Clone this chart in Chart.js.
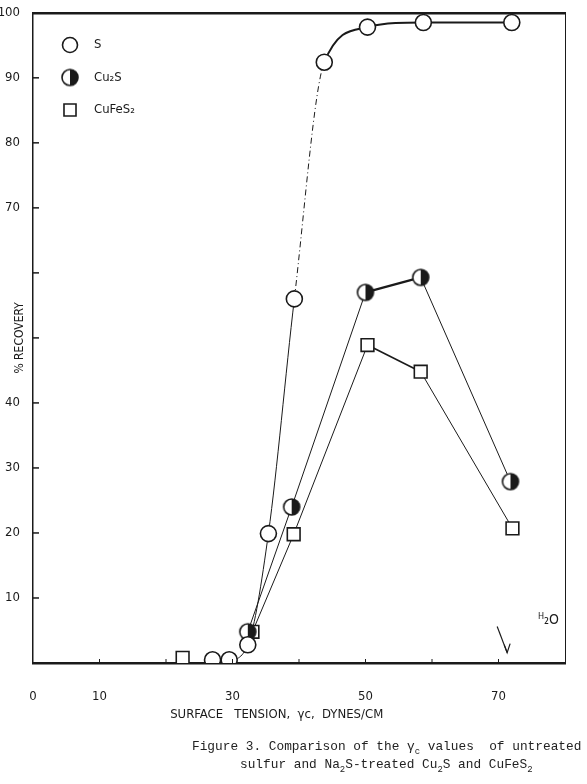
<!DOCTYPE html>
<html>
<head>
<meta charset="utf-8">
<script src="https://cdn.jsdelivr.net/npm/chart.js@4.4.1/dist/chart.umd.min.js"></script>
<style>
html, body { margin: 0; padding: 0; background: #fff; }
#wrap { position: relative; width: 587px; height: 784px; }
#wrap canvas { position: absolute; left: 0; top: 0; }
.cap { position: absolute; font-family: 'Liberation Mono', 'DejaVu Sans Mono', monospace; font-size: 12.8px; color: #222; white-space: pre; line-height: 16px; }
.cap sub { font-size: 70%; vertical-align: -4px; line-height: 0; }
</style>
</head>
<body>
<div id="wrap">
  <canvas id="recoveryChart" width="587" height="784"></canvas>
  <div class="cap" style="left:192px; top:739px">Figure 3. Comparison of the γ<sub>c</sub> values  of untreated</div>
  <div class="cap" style="left:240px; top:757px">sulfur and Na<sub>2</sub>S-treated Cu<sub>2</sub>S and CuFeS<sub>2</sub></div>
</div>
<script>
// Data (surface tension in dynes/cm, % recovery)
const sulfurX = [27, 29.5, 32.3, 35.4, 39.3, 43.8, 50.3, 58.7, 72];
const sulfurY = [0.5, 0.5, 2.8, 19.9, 56, 92.4, 97.8, 98.5, 98.5];
const cu2sX = [32.3, 38.9, 50.0, 58.3, 71.8];
const cu2sY = [4.8, 24.0, 57.0, 59.3, 27.9];
const cufes2X = [22.5, 33.0, 39.2, 50.3, 58.3, 72.1];
const cufes2Y = [0.8, 4.8, 19.8, 48.9, 44.8, 20.7];

const seriesNames = ['S', 'Cu₂S', 'CuFeS₂'];
const xTickLabels = { 0: '0', 10: '10', 30: '30', 50: '50', 70: '70' };
const yTickLabels = { 10: '10', 20: '20', 30: '30', 40: '40', 70: '70', 80: '80', 90: '90', 100: '100' };

const INK = '#1a1a1a';
const tickFont = { family: "'Liberation Sans Narrow', 'DejaVu Sans Condensed', sans-serif", size: 13 };

function toPoints(xs, ys) {
    return xs.map((x, i) => ({ x: x, y: ys[i] }));
}

// half filled circle marker for Cu2S
function halfMoon(r) {
    const c = document.createElement('canvas');
    const s = r * 2 + 4;
    c.width = s;
    c.height = s;
    const g = c.getContext('2d');
    const m = s / 2;
    g.beginPath(); g.arc(m, m, r, 0, Math.PI * 2); g.fillStyle = '#fff'; g.fill();
    g.beginPath(); g.arc(m, m, r, -Math.PI / 2, Math.PI / 2); g.closePath(); g.fillStyle = INK; g.fill();
    g.beginPath(); g.arc(m, m, r, 0, Math.PI * 2); g.lineWidth = 1.6; g.strokeStyle = INK; g.stroke();
    return c;
}
const moonMarker = halfMoon(8);

// small inward ticks, legend inside plot and the H2O arrow
const extras = {
    id: 'extras',
    afterDatasetsDraw(chart) {
        const ctx = chart.ctx;
        const xs = chart.scales.x, ys = chart.scales.y;
        const area = chart.chartArea;
        ctx.save();
        ctx.strokeStyle = INK;
        ctx.lineWidth = 1.5;
        for (let v = 10; v < 100; v += 10) {
            const py = ys.getPixelForValue(v);
            ctx.beginPath(); ctx.moveTo(area.left, py); ctx.lineTo(area.left + 6, py); ctx.stroke();
        }
        ctx.lineWidth = 1;
        for (let v = 10; v <= 70; v += 10) {
            const px = xs.getPixelForValue(v);
            ctx.beginPath(); ctx.moveTo(px, area.bottom); ctx.lineTo(px, area.bottom - 4); ctx.stroke();
        }

        // legend
        const styles = [
            { pointStyle: 'circle', radius: 7.5 },
            { pointStyle: moonMarker, radius: 8 },
            { pointStyle: 'rect', radius: 8.5 }
        ];
        ctx.font = "13px 'DejaVu Sans Condensed', sans-serif";
        ctx.textBaseline = 'middle';
        ctx.textAlign = 'left';
        seriesNames.forEach((name, i) => {
            const ly = 45 + i * 32.5;
            ctx.fillStyle = '#fff';
            ctx.strokeStyle = INK;
            ctx.lineWidth = 1.6;
            Chart.helpers.drawPoint(ctx, { pointStyle: styles[i].pointStyle, radius: styles[i].radius, borderWidth: 1.6, rotation: 0 }, 70, ly);
            ctx.fillStyle = INK;
            ctx.fillText(name, 94, ly);
        });

        // H2O marker
        const ax0 = xs.getPixelForValue(69.8), ay0 = ys.getPixelForValue(5.6);
        const ax1 = xs.getPixelForValue(71.3), ay1 = ys.getPixelForValue(1.6);
        ctx.strokeStyle = INK;
        ctx.lineWidth = 1.2;
        ctx.beginPath(); ctx.moveTo(ax0, ay0); ctx.lineTo(ax1, ay1); ctx.stroke();
        ctx.beginPath(); ctx.moveTo(ax1 - 3, ay1 - 8); ctx.lineTo(ax1, ay1); ctx.lineTo(ax1 + 3, ay1 - 9); ctx.stroke();
        ctx.fillStyle = INK;
        ctx.font = "9px 'DejaVu Sans Condensed', sans-serif";
        const tx = xs.getPixelForValue(76.4), ty = ys.getPixelForValue(6.6);
        ctx.fillText('H', tx - 3, ty - 3);
        ctx.font = "14px 'DejaVu Sans Condensed', sans-serif";
        ctx.fillText('₂O', tx + 3, ty);
        ctx.restore();
    }
};

const data = {
    datasets: [
        {
            label: seriesNames[0],
            data: toPoints(sulfurX, sulfurY),
            borderColor: INK,
            borderWidth: 1,
            backgroundColor: '#fff',
            pointStyle: 'circle',
            pointRadius: 8,
            pointBorderWidth: 1.6,
            cubicInterpolationMode: 'monotone',
            segment: {
                borderDash: ctx => ctx.p0DataIndex === 4 ? [6, 3, 1, 3] : undefined,
                borderWidth: ctx => ctx.p0DataIndex >= 5 ? 2 : undefined
            }
        },
        {
            label: seriesNames[1],
            data: toPoints(cu2sX, cu2sY),
            borderColor: INK,
            borderWidth: 1,
            backgroundColor: '#fff',
            pointStyle: moonMarker,
            pointRadius: 8,
            segment: {
                borderWidth: ctx => ctx.p0DataIndex === 2 ? 2.2 : undefined
            }
        },
        {
            label: seriesNames[2],
            data: toPoints(cufes2X, cufes2Y),
            borderColor: INK,
            borderWidth: 1,
            backgroundColor: '#fff',
            pointStyle: 'rect',
            pointRadius: 9,
            pointBorderWidth: 1.6,
            segment: {
                borderColor: ctx => ctx.p0DataIndex === 0 ? 'rgba(0,0,0,0)' : undefined,
                borderWidth: ctx => ctx.p0DataIndex === 3 ? 1.6 : undefined
            }
        }
    ]
};

const config = {
    type: 'line',
    data: data,
    options: {
        responsive: false,
        animation: false,
        layout: { padding: { left: 0, top: 10, right: 22, bottom: 59 } },
        plugins: {
            legend: { display: false },
            tooltip: { enabled: false }
        },
        scales: {
            x: {
                type: 'linear',
                min: 0,
                max: 80,
                grid: { display: false },
                border: { display: true, color: INK, width: 2.5 },
                ticks: {
                    stepSize: 10,
                    color: INK,
                    font: tickFont,
                    padding: 18,
                    maxRotation: 0,
                    callback: v => xTickLabels[v] || ''
                },
                title: {
                    display: true,
                    text: 'SURFACE   TENSION,  γc,  DYNES/CM            ',
                    color: INK,
                    font: { family: "'DejaVu Sans Condensed', sans-serif", size: 13 },
                    padding: { top: 4, bottom: 3 }
                },
                afterFit: s => { s.height = 62; }
            },
            y: {
                min: 0,
                max: 100,
                grid: { display: false },
                border: { display: true, color: INK, width: 1.5 },
                ticks: {
                    stepSize: 10,
                    color: INK,
                    font: tickFont,
                    padding: 5,
                    callback: v => yTickLabels[v] || ''
                },
                title: {
                    display: true,
                    text: '% RECOVERY',
                    color: INK,
                    font: { family: "'DejaVu Sans Condensed', sans-serif", size: 12 },
                    padding: { top: 13, bottom: 0 }
                },
                afterFit: s => { s.width = 33; }
            },
            x2: {
                type: 'linear',
                position: 'top',
                min: 0,
                max: 80,
                grid: { display: false },
                ticks: { display: false },
                border: { display: true, color: INK, width: 2.5 },
                afterFit: s => { s.height = 0; }
            },
            y2: {
                position: 'right',
                min: 0,
                max: 100,
                grid: { display: false },
                ticks: { display: false },
                border: { display: true, color: INK, width: 1 },
                afterFit: s => { s.width = 0; }
            }
        }
    },
    plugins: [extras]
};

const ctx = document.getElementById('recoveryChart').getContext('2d');
new Chart(ctx, config);
</script>
</body>
</html>
